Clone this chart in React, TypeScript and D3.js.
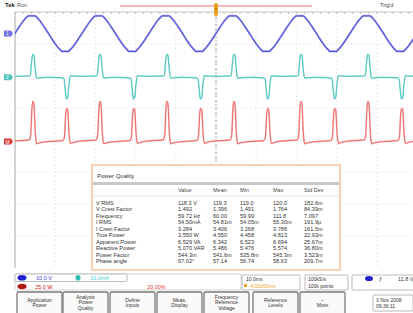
import React from "react";
import * as d3 from "d3";

// ---------- data ----------
const PERIOD_MS = 16.667; // 60 Hz line
const CYCLES = [-4, -3, -2, -1, 0, 1, 2, 3];

// Channel 1 (voltage) one cycle: phase (ms), value (div)
const vPhase = [0, 0.8, 1.6, 2.4, 3.0, 3.3, 5.0, 5.3, 5.9, 6.7, 7.5, 8.33, 9.13, 9.93, 10.73, 11.33, 11.63, 13.33, 13.63, 14.23, 15.03, 15.83, 16.667];
const vValue = [0, 0.16, 0.31, 0.44, 0.52, 0.55, 0.55, 0.52, 0.44, 0.31, 0.16, 0, -0.16, -0.31, -0.44, -0.52, -0.56, -0.56, -0.52, -0.44, -0.31, -0.16, 0];

// Channel 2 (current) one cycle
const iPhase = [0, 3.4, 3.8, 4.1, 4.4, 4.7, 5.0, 5.4, 5.9, 8.3, 11.8, 12.2, 12.5, 12.8, 13.1, 13.4, 13.8, 14.3, 16.667];
const iValue = [0.03, 0.04, 0.06, 0.45, 0.72, 0.7, 0.3, -0.03, -0.02, 0.0, -0.02, -0.05, -0.4, -0.68, -0.64, -0.25, 0.05, 0.04, 0.03];

// Math (power) one cycle
const pPhase = [0, 3.5, 3.9, 4.2, 4.45, 4.7, 5.05, 5.4, 6.0, 8.3, 11.9, 12.3, 12.6, 12.85, 13.1, 13.45, 13.8, 14.4, 16.667];
const pValue = [0.02, 0.05, 0.2, 1.0, 1.26, 1.2, 0.3, -0.07, -0.04, 0.0, 0.03, 0.15, 0.85, 1.04, 1.0, 0.25, -0.06, -0.03, 0.02];

const chOffsets = { v: 3.33, i: 1.96, p: -0.05 };

const tableTitle = "Power Quality";
const tableHeaders = ["Value", "Mean", "Min", "Max", "Std Dev"];
const tableLabels = ["V RMS", "V Crest Factor", "Frequency", "I RMS", "I Crest Factor", "True Power", "Apparent Power", "Reactive Power", "Power Factor", "Phase angle"];
const tableValues = [
  ["118.3 V", "119.3", "119.0", "120.0", "182.6m"],
  ["1.492", "1.396", "1.491", "1.764", "84.39m"],
  ["59.72 Hz", "60.00", "59.99", "111.8", "7.097"],
  ["54.50mA", "54.81m", "54.05m", "55.30m", "191.9µ"],
  ["3.284", "3.406", "3.268", "3.788", "161.5m"],
  ["3.550 W", "4.550", "4.458", "4.813", "22.93m"],
  ["6.529 VA", "6.342", "6.523", "6.694", "25.67m"],
  ["5.070 VAR", "5.486", "5.476", "5.574", "36.80m"],
  ["544.3m", "541.6m", "535.8m", "545.3m", "3.523m"],
  ["57.02°", "57.14", "56.74", "58.63", "209.7m"],
];

const buttonLabels = [
  ["Application", "Power"],
  ["Analysis", "Power", "Quality"],
  ["Define", "Inputs"],
  ["Meas.", "Display"],
  ["Frequency", "Reference", "Voltage"],
  ["Reference", "Levels"],
  ["–", "More"],
];

// ---------- layout ----------
const W = 413, H = 313;
const GX0 = 15, GX1 = 417, GY0 = 12, GY1 = 268;
const x = d3.scaleLinear().domain([-50, 50]).range([GX0, GX1]);
const y = d3.scaleLinear().domain([-4, 4]).range([GY1, GY0]);
const FONT = "Liberation Sans, Arial, sans-serif";

function tile(phase: number[], vals: number[], off: number) {
  const pts: [number, number][] = [];
  CYCLES.forEach((k) => {
    phase.forEach((p, j) => {
      if (j === 0 && k !== CYCLES[0]) return;
      pts.push([p + k * PERIOD_MS, vals[j] + off]);
    });
  });
  return pts;
}

const line = d3
  .line<[number, number]>()
  .x((d) => x(d[0]))
  .y((d) => y(d[1]))
  .curve(d3.curveMonotoneX);

export default function App() {
  const vPath = line(tile(vPhase, vValue, chOffsets.v)) || "";
  const iPath = line(tile(iPhase, iValue, chOffsets.i)) || "";
  const pPath = line(tile(pPhase, pValue, chOffsets.p)) || "";

  const divX = d3.range(-40, 50, 10);
  const divY = d3.range(-3, 4, 1);
  const cx = x(0), cy = y(0);
  const minorX = d3.range(-50, 50.01, 2);
  const minorY = d3.range(-4, 4.01, 0.2);

  const colX = [178, 213, 240, 273, 304];
  const btnX = [17, 63, 110, 157, 204, 253, 300];

  return (
    <svg width={W} height={H} style={{ position: "fixed", left: 0, top: 0, background: "#fff" }} fontFamily={FONT}>
      <defs>
        <clipPath id="grat">
          <rect x={GX0} y={GY0} width={W - GX0} height={GY1 - GY0} />
        </clipPath>
      </defs>
      <rect width={W} height={H} fill="#fff" />

      {/* top bar */}
      <text x={5} y={7} fontSize={6} fontWeight="bold" fill="#222">Tek</text>
      <text x={17} y={7} fontSize={5.5} fill="#555">Run</text>
      <text x={380} y={7} fontSize={5.5} fill="#444">Trig'd</text>
      <line x1={120} x2={312} y1={6} y2={6} stroke="#f2a4a4" strokeWidth={1.4} />

      {/* graticule */}
      <g clipPath="url(#grat)">
        {divX.filter((d) => d !== 0).map((d) => (
          <line key={"vx" + d} x1={x(d)} x2={x(d)} y1={GY0} y2={GY1} stroke="#d4d4d4" strokeWidth={0.8} strokeDasharray="1,3" />
        ))}
        {divY.filter((d) => d !== 0).map((d) => (
          <line key={"hy" + d} x1={GX0} x2={GX1} y1={y(d)} y2={y(d)} stroke="#dcdcdc" strokeWidth={0.8} strokeDasharray="1,3" />
        ))}
        <line x1={cx} x2={cx} y1={GY0} y2={GY1} stroke="#9a9a9a" strokeWidth={0.8} strokeDasharray="2,2" />
        <line x1={GX0} x2={GX1} y1={cy} y2={cy} stroke="#c8c8c8" strokeWidth={0.6} strokeDasharray="1,2" />
        {minorY.map((d) => (
          <line key={"my" + d} x1={cx - 1.5} x2={cx + 1.5} y1={y(d)} y2={y(d)} stroke="#aaa" strokeWidth={0.6} />
        ))}
        {minorX.map((d) => (
          <line key={"mx" + d} x1={x(d)} x2={x(d)} y1={GY0} y2={GY0 + 2} stroke="#999" strokeWidth={0.6} />
        ))}
      </g>
      <line x1={GX0} x2={W} y1={GY0} y2={GY0} stroke="#b0b0b0" strokeWidth={0.8} />
      <line x1={GX0} x2={GX0} y1={GY0} y2={GY1} stroke="#a8a8a8" strokeWidth={1} />

      {/* traces */}
      <g clipPath="url(#grat)" fill="none" strokeLinejoin="round">
        <path d={pPath} stroke="#f9c4c4" strokeWidth={1.8} />
        <path d={pPath} stroke="#ea5050" strokeWidth={0.8} />
        <path d={iPath} stroke="#b8ece8" strokeWidth={1.7} />
        <path d={iPath} stroke="#3cbcb4" strokeWidth={0.9} />
        <path d={vPath} stroke="#b8b8f0" strokeWidth={2.2} />
        <path d={vPath} stroke="#5656da" strokeWidth={1.2} />
      </g>

      {/* channel tags */}
      <g>
        <path d={`M4,${y(chOffsets.v) - 3} h7 l2,3 l-2,3 h-7 z`} fill="#7070e0" />
        <text x={6} y={y(chOffsets.v) + 2} fontSize={5} fill="#fff">1</text>
        <path d={`M4,${y(chOffsets.i) - 3} h7 l2,3 l-2,3 h-7 z`} fill="#50c8c0" />
        <text x={6} y={y(chOffsets.i) + 2} fontSize={5} fill="#fff">2</text>
        <path d={`M4,${y(chOffsets.p) - 3} h7 l2,3 l-2,3 h-7 z`} fill="#d83a3a" />
        <text x={5.5} y={y(chOffsets.p) + 2} fontSize={5} fill="#fff">M</text>
      </g>

      {/* trigger marker */}
      <rect x={cx - 2} y={3} width={4} height={13} rx={2} fill="#f0a020" />
      <circle cx={cx} cy={9} r={1} fill="#c07000" />

      {/* measurement table */}
      <rect x={92} y={165} width={248} height={105} fill="#fff" stroke="#f6d2b2" strokeWidth={2} />
      <text x={97} y={178} fontSize={6} fill="#333">{tableTitle}</text>
      <rect x={93} y={182} width={246} height={3} fill="#c8c8c8" />
      {tableHeaders.map((h, i) => (
        <text key={h} x={colX[i]} y={192} fontSize={5.5} fill="#444">{h}</text>
      ))}
      <line x1={93} x2={339} y1={196} y2={196} stroke="#d0d0d0" strokeWidth={0.6} />
      {tableLabels.map((lab, r) => (
        <g key={lab}>
          <text x={96} y={204.5 + r * 6.5} fontSize={5.6} fill="#333">{lab}</text>
          {tableValues[r].map((v, c) => (
            <text key={c} x={colX[c]} y={204.5 + r * 6.5} fontSize={5.6} fill="#333">{v}</text>
          ))}
        </g>
      ))}

      {/* status readouts */}
      <rect x={15} y={274} width={226} height={16} fill="#fff" stroke="#c8c8c8" strokeWidth={0.8} rx={1} />
      <rect x={15} y={274} width={112} height={7.5} fill="#fff" stroke="#aaa" strokeWidth={0.8} rx={1} />
      <ellipse cx={22} cy={277.8} rx={4.5} ry={2.8} fill="#2020d0" />
      <text x={36} y={280} fontSize={5.5} fill="#3a3ae0">10.0 V</text>
      <ellipse cx={78} cy={277.8} rx={2.5} ry={2.8} fill="#30c0b8" />
      <text x={90} y={280} fontSize={5.5} fill="#40d0c8">10.0mA</text>
      <ellipse cx={22} cy={286.5} rx={4.5} ry={2.8} fill="#b01818" />
      <text x={35} y={288.5} fontSize={5.5} fill="#d02020">25.0 W</text>
      <text x={147} y={288.5} fontSize={5.5} fill="#e04040">20.00%</text>

      <rect x={242} y={275} width={58} height={15} fill="#fff" stroke="#aaa" strokeWidth={0.8} rx={1} />
      <text x={246} y={281} fontSize={5} fill="#333">10.0ms</text>
      <rect x={244} y={284} width={3} height={3} fill="#f0a020" />
      <text x={249} y={288} fontSize={5} fill="#f0a020">-4.00000ms</text>

      <rect x={305} y={275} width={43} height={15} fill="#fff" stroke="#aaa" strokeWidth={0.8} rx={1} />
      <text x={308} y={281} fontSize={5} fill="#333">100kS/s</text>
      <text x={308} y={288} fontSize={5} fill="#333">100k points</text>

      <rect x={352} y={275} width={66} height={15} fill="#fff" stroke="#aaa" strokeWidth={0.8} rx={1} />
      <ellipse cx={369} cy={278.5} rx={4} ry={2.6} fill="#2020d0" />
      <text x={379} y={280.5} fontSize={5.5} fill="#333">ƒ</text>
      <text x={398} y={280.5} fontSize={5.5} fill="#333">11.8 V</text>

      {/* menu buttons */}
      {buttonLabels.map((lines, i) => {
        const bx = btnX[i];
        const bw = 45;
        const midY = 302.5;
        const startY = midY - ((lines.length - 1) * 5.5) / 2 + 1.8;
        return (
          <g key={i}>
            <rect x={bx} y={292} width={bw} height={24} fill="#fafafa" stroke="#7a7a7a" strokeWidth={1.3} rx={1.5} />
            {lines.map((t, j) => (
              <text key={j} x={bx + bw / 2} y={startY + j * 5.5} fontSize={5} fill="#333" textAnchor="middle">{t}</text>
            ))}
          </g>
        );
      })}
      <rect x={373} y={295} width={40} height={16} fill="#fff" stroke="#aaa" strokeWidth={0.8} rx={1} />
      <text x={376} y={301.5} fontSize={5} fill="#333">3 Nov 2008</text>
      <text x={376} y={308} fontSize={5} fill="#333">09:36:11</text>
    </svg>
  );
}
